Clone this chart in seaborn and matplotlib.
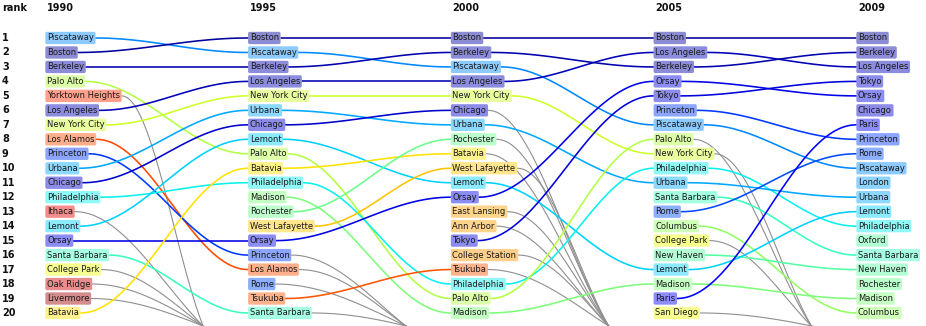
import numpy as np
import pandas as pd
import matplotlib
matplotlib.use("Agg")
import matplotlib.pyplot as plt
import seaborn as sns

# ---------------- data ----------------
years = ["1990", "1995", "2000", "2005", "2009"]

rank_1990 = ["Piscataway", "Boston", "Berkeley", "Palo Alto", "Yorktown Heights",
             "Los Angeles", "New York City", "Los Alamos", "Princeton", "Urbana",
             "Chicago", "Philadelphia", "Ithaca", "Lemont", "Orsay",
             "Santa Barbara", "College Park", "Oak Ridge", "Livermore", "Batavia"]
rank_1995 = ["Boston", "Piscataway", "Berkeley", "Los Angeles", "New York City",
             "Urbana", "Chicago", "Lemont", "Palo Alto", "Batavia",
             "Philadelphia", "Madison", "Rochester", "West Lafayette", "Orsay",
             "Princeton", "Los Alamos", "Rome", "Tsukuba", "Santa Barbara"]
rank_2000 = ["Boston", "Berkeley", "Piscataway", "Los Angeles", "New York City",
             "Chicago", "Urbana", "Rochester", "Batavia", "West Lafayette",
             "Lemont", "Orsay", "East Lansing", "Ann Arbor", "Tokyo",
             "College Station", "Tsukuba", "Philadelphia", "Palo Alto", "Madison"]
rank_2005 = ["Boston", "Los Angeles", "Berkeley", "Orsay", "Tokyo",
             "Princeton", "Piscataway", "Palo Alto", "New York City", "Philadelphia",
             "Urbana", "Santa Barbara", "Rome", "Columbus", "College Park",
             "New Haven", "Lemont", "Madison", "Paris", "San Diego"]
rank_2009 = ["Boston", "Berkeley", "Los Angeles", "Tokyo", "Orsay",
             "Chicago", "Paris", "Princeton", "Rome", "Piscataway",
             "London", "Urbana", "Lemont", "Philadelphia", "Oxford",
             "Santa Barbara", "New Haven", "Rochester", "Madison", "Columbus"]
rankings = [rank_1990, rank_1995, rank_2000, rank_2005, rank_2009]

# colour position of each city on the jet colormap (style)
city_hue = {
    "Boston": 0.03, "Berkeley": 0.04, "Los Angeles": 0.05, "Chicago": 0.07,
    "Tokyo": 0.08, "Orsay": 0.09, "Paris": 0.12, "Princeton": 0.18,
    "Rome": 0.20, "Piscataway": 0.26, "London": 0.28, "Urbana": 0.29,
    "Lemont": 0.33, "Philadelphia": 0.36, "Santa Barbara": 0.42,
    "Oxford": 0.45, "New Haven": 0.45, "Rochester": 0.48, "Madison": 0.50,
    "Columbus": 0.53, "Palo Alto": 0.57, "New York City": 0.60,
    "College Park": 0.64, "San Diego": 0.64, "Batavia": 0.67,
    "West Lafayette": 0.70, "East Lansing": 0.74, "Ann Arbor": 0.74,
    "College Station": 0.75, "Tsukuba": 0.82, "Los Alamos": 0.83,
    "Yorktown Heights": 0.86, "Ithaca": 0.91, "Oak Ridge": 0.93,
    "Livermore": 0.97,
}

# ---------------- figure ----------------
sns.set_theme(style="white")
plt.rcParams["font.family"] = ["DejaVu Sans"]

W, H = 926, 326
fig = plt.figure(figsize=(W / 100, H / 100), dpi=100)
ax = fig.add_axes([0, 0, 1, 1])
Y_TOP, Y_BOT = -1.625, 20.9
ax.set_xlim(0, W)
ax.set_ylim(Y_BOT, Y_TOP)
ax.axis("off")

cmap = plt.get_cmap("jet")
X0, DX = 47, 202.75
col_x = [X0 + DX * i for i in range(len(years))]
HEAD_Y = -1.07


def light(c, w=0.45):
    c = np.array(c[:3])
    return tuple(w * c + (1 - w) * np.ones(3))


ax.text(2, HEAD_Y, "rank", fontsize=7, fontweight="bold", ha="left", va="center",
        color="#111111")
n_rank = len(rank_1990)
for r in range(1, n_rank + 1):
    ax.text(2, r, str(r), fontsize=7, fontweight="bold", ha="left", va="center",
            color="#111111")

texts = {}
for i, (yr, ranking) in enumerate(zip(years, rankings)):
    ax.text(col_x[i], HEAD_Y, yr, fontsize=7, fontweight="bold", ha="left",
            va="center", color="#111111")
    for r, city in enumerate(ranking, start=1):
        c = cmap(city_hue[city])
        t = ax.text(col_x[i], r, city, fontsize=6.0, ha="left", va="center",
                    color="#1a1a1a", zorder=5,
                    bbox=dict(boxstyle="round,pad=0.2", fc=light(c), ec="none"))
        texts[(i, city)] = t

fig.canvas.draw()
renderer = fig.canvas.get_renderer()


def box_edges(t):
    bb = t.get_bbox_patch().get_window_extent(renderer)
    return bb.x0, bb.x1


def sigmoid(xa, ya, xb, yb, n=80):
    tt = np.linspace(0, 1, n)
    s = (1 - np.cos(np.pi * tt)) / 2
    return xa + (xb - xa) * tt, ya + (yb - ya) * s


rows_col, rows_gray = [], []
seg_colors = {}
R_OUT = 23.0
for i in range(len(years) - 1):
    cur, nxt = rankings[i], rankings[i + 1]
    for r, city in enumerate(cur, start=1):
        _, xs = box_edges(texts[(i, city)])
        seg = f"{i}-{city}"
        if city in nxt:
            r2 = nxt.index(city) + 1
            xe, _ = box_edges(texts[(i + 1, city)])
            xx, yy = sigmoid(xs, r, xe, r2)
            seg_colors[seg] = cmap(city_hue[city])
            rows_col += [dict(x=a, y=b, seg=seg) for a, b in zip(xx, yy)]
        else:
            xc = col_x[i] + 0.77 * DX
            sc = (Y_BOT - r) / (R_OUT - r)
            tc = np.arccos(1 - 2 * sc) / np.pi
            xe = xs + (xc - xs) / tc
            xx, yy = sigmoid(xs, r, xe, R_OUT)
            rows_gray += [dict(x=a, y=b, seg=seg) for a, b in zip(xx, yy)]

df_gray = pd.DataFrame(rows_gray)
df_col = pd.DataFrame(rows_col)

sns.lineplot(data=df_gray, x="x", y="y", units="seg", estimator=None, sort=False,
             color="#8f8f8f", lw=0.8, legend=False, ax=ax, zorder=1)
sns.lineplot(data=df_col, x="x", y="y", hue="seg", units="seg", estimator=None,
             sort=False, palette=seg_colors, lw=1.15, legend=False, ax=ax, zorder=2)

ax.set_xlim(0, W)
ax.set_ylim(Y_BOT, Y_TOP)
ax.axis("off")

fig.savefig("out.png", dpi=100)
